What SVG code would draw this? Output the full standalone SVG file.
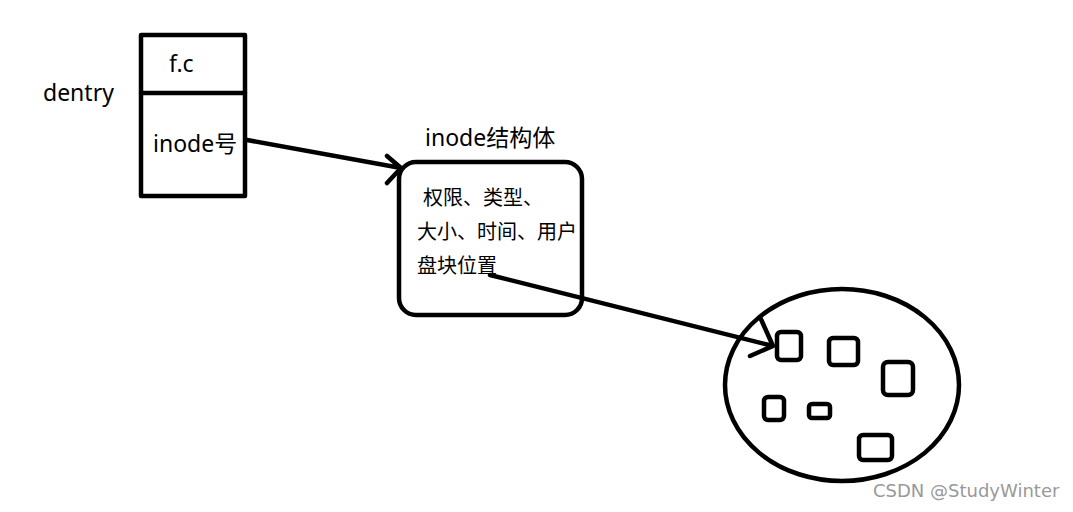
<svg xmlns="http://www.w3.org/2000/svg" width="1073" height="512" viewBox="0 0 1073 512">
<style>
.s{fill:none;stroke:#000;stroke-width:4.5;stroke-linecap:round;stroke-linejoin:round}
.t{font-family:"Noto Sans","Noto Sans CJK SC",sans-serif;font-size:23px;fill:#000}
.c{font-family:"Noto Sans","Noto Sans CJK SC",sans-serif;font-size:20px;fill:#000}
.w{font-family:"DejaVu Sans","Noto Sans",sans-serif;font-size:18px;fill:#999}
</style>
<rect width="1073" height="512" fill="#fff"/>
<g id="dentry">
<text class="t" x="43" y="101">dentry</text>
<rect class="s" x="141" y="35" width="104" height="161" stroke-linecap="butt" stroke-linejoin="miter"/>
<line class="s" x1="141" y1="93" x2="245" y2="93"/>
<text class="t" x="169" y="72">f.c</text>
<text class="t" x="153" y="152">inode号</text>
</g>
<g id="inode">
<text class="t" x="425" y="146">inode结构体</text>
<rect class="s" x="399" y="162" width="183" height="153" rx="17"/>
<text class="c" x="423" y="205">权限、类型、</text>
<text class="c" x="417" y="239">大小、时间、用户</text>
<text class="c" x="417" y="273">盘块位置</text>
</g>
<g id="disk">
<ellipse class="s" cx="842" cy="385" rx="117" ry="96"/>
<rect class="s" x="777" y="332" width="24" height="28" rx="4"/>
<rect class="s" x="829" y="338" width="29" height="27" rx="4"/>
<rect class="s" x="883" y="362" width="30" height="33" rx="5"/>
<rect class="s" x="764" y="397" width="20" height="23" rx="4"/>
<rect class="s" x="809" y="404" width="21" height="14" rx="3"/>
<rect class="s" x="859" y="435" width="33" height="25" rx="4"/>
</g>
<g id="connectors">
<path class="s" d="M247 140 L401 168 M387 156 L401 168 L387 183"/>
<path class="s" d="M490 275 L773 346 M760 317 L773 346 L750 356"/>
</g>
<text class="w" x="873" y="497">CSDN @StudyWinter</text>
</svg>
